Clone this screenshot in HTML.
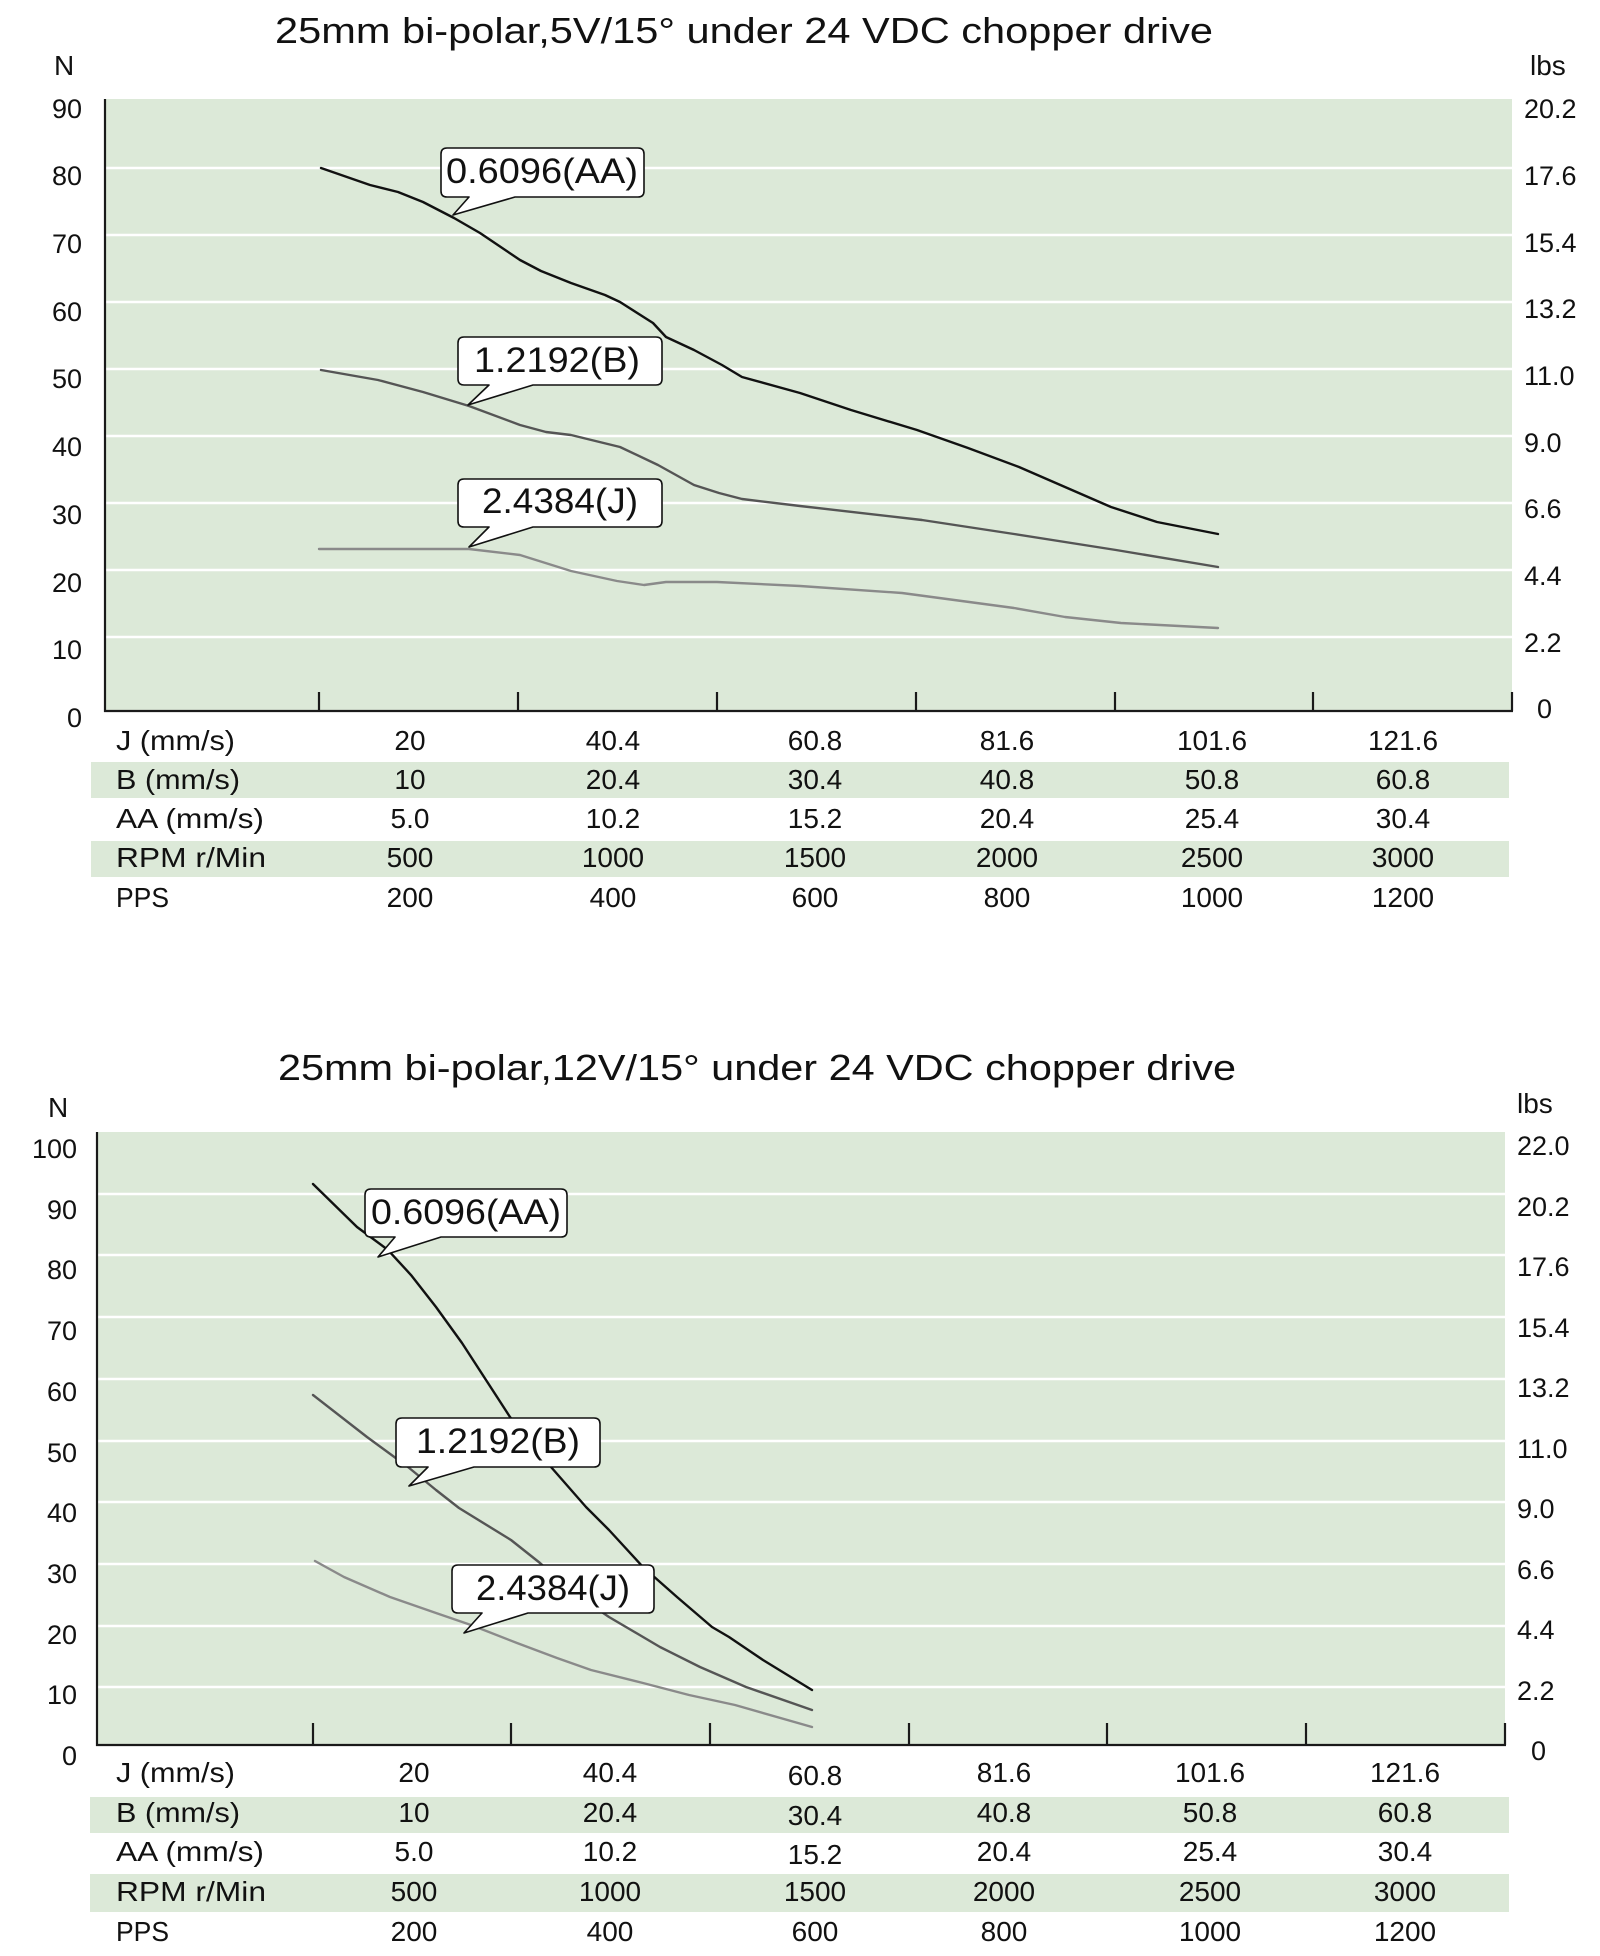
<!DOCTYPE html>
<html>
<head>
<meta charset="utf-8">
<style>
html,body{margin:0;padding:0;background:#fff;}
svg{display:block;}
text{font-family:"Liberation Sans",Arial,sans-serif;fill:#111;}
</style>
</head>
<body>
<svg width="1600" height="1956" viewBox="0 0 1600 1956" xmlns="http://www.w3.org/2000/svg">
<!-- ================= TOP CHART ================= -->
<text x="275" y="43" font-size="36" textLength="938" lengthAdjust="spacingAndGlyphs">25mm bi-polar,5V/15° under 24 VDC chopper drive</text>
<text x="54" y="75" font-size="28">N</text>
<text x="1530" y="75" font-size="28">lbs</text>

<rect x="105" y="99" width="1407" height="612" fill="#dce9d8"/>
<g stroke="#fff" stroke-width="2.5">
<line x1="105" y1="168" x2="1512" y2="168"/>
<line x1="105" y1="235" x2="1512" y2="235"/>
<line x1="105" y1="302" x2="1512" y2="302"/>
<line x1="105" y1="369" x2="1512" y2="369"/>
<line x1="105" y1="436" x2="1512" y2="436"/>
<line x1="105" y1="503" x2="1512" y2="503"/>
<line x1="105" y1="570" x2="1512" y2="570"/>
<line x1="105" y1="637" x2="1512" y2="637"/>
</g>
<g stroke="#1a1a1a" stroke-width="2.2" fill="none">
<line x1="105" y1="99" x2="105" y2="712"/>
<line x1="104" y1="711" x2="1513" y2="711"/>
<line x1="319" y1="692" x2="319" y2="711"/>
<line x1="518" y1="692" x2="518" y2="711"/>
<line x1="717" y1="692" x2="717" y2="711"/>
<line x1="916" y1="692" x2="916" y2="711"/>
<line x1="1115" y1="692" x2="1115" y2="711"/>
<line x1="1313" y1="692" x2="1313" y2="711"/>
<line x1="1512" y1="692" x2="1512" y2="711"/>
</g>
<g font-size="27" text-anchor="end">
<text x="82" y="118">90</text>
<text x="82" y="185">80</text>
<text x="82" y="253">70</text>
<text x="82" y="321">60</text>
<text x="82" y="388">50</text>
<text x="82" y="456">40</text>
<text x="82" y="524">30</text>
<text x="82" y="592">20</text>
<text x="82" y="659">10</text>
<text x="82" y="727">0</text>
</g>
<g font-size="27">
<text x="1524" y="118">20.2</text>
<text x="1524" y="185">17.6</text>
<text x="1524" y="252">15.4</text>
<text x="1524" y="318">13.2</text>
<text x="1524" y="385">11.0</text>
<text x="1524" y="452">9.0</text>
<text x="1524" y="518">6.6</text>
<text x="1524" y="585">4.4</text>
<text x="1524" y="652">2.2</text>
<text x="1537" y="718">0</text>
</g>
<g fill="none" stroke-width="2.4" stroke-linejoin="round" stroke-linecap="round">
<polyline stroke="#8a8a8a" points="319,549 469,549 520,555 571,571 617,581 644,585 666,582 717,582 800,586 902,593 1014,608 1065,617 1121,623 1218,628"/>
<polyline stroke="#555" points="321,370 378,380 423,392 469,406 520,425 546,432 571,435 620,447 658,465 694,485 719,493 742,499 800,506 922,520 1014,534 1116,550 1218,567"/>
<polyline stroke="#111" points="321,168 370,185 398,192 423,202 454,218 480,233 520,260 541,271 571,283 605,295 620,302 653,323 666,337 694,350 722,365 742,377 800,393 851,410 917,430 968,448 1019,467 1065,487 1111,507 1157,522 1218,534"/>
</g>
<g fill="#fff" stroke="#111" stroke-width="1.6" stroke-linejoin="round">
<path d="M447,148 H638 Q644,148 644,154 V191 Q644,197 638,197 H515 L453,215 L469,197 H447 Q441,197 441,191 V154 Q441,148 447,148 Z"/>
<path d="M464,337 H656 Q662,337 662,343 V379 Q662,385 656,385 H533 L468,405 L489,385 H464 Q458,385 458,379 V343 Q458,337 464,337 Z"/>
<path d="M464,479 H656 Q662,479 662,485 V521 Q662,527 656,527 H533 L469,547 L489,527 H464 Q458,527 458,521 V485 Q458,479 464,479 Z"/>
</g>
<g font-size="35">
<text x="446" y="183" textLength="192" lengthAdjust="spacingAndGlyphs">0.6096(AA)</text>
<text x="474" y="372" textLength="166" lengthAdjust="spacingAndGlyphs">1.2192(B)</text>
<text x="482" y="513" textLength="156" lengthAdjust="spacingAndGlyphs">2.4384(J)</text>
</g>
<!-- top table -->
<rect x="91" y="762" width="1418" height="36" fill="#dce9d8"/>
<rect x="91" y="841" width="1418" height="36" fill="#dce9d8"/>
<g font-size="28">
<text x="116" y="750" textLength="119" lengthAdjust="spacingAndGlyphs">J (mm/s)</text>
<text x="116" y="789" textLength="124" lengthAdjust="spacingAndGlyphs">B (mm/s)</text>
<text x="116" y="828" textLength="148" lengthAdjust="spacingAndGlyphs">AA (mm/s)</text>
<text x="116" y="867" textLength="150" lengthAdjust="spacingAndGlyphs">RPM r/Min</text>
<text x="116" y="907" textLength="53" lengthAdjust="spacingAndGlyphs">PPS</text>
</g>
<g font-size="28" text-anchor="middle">
<text x="410" y="750">20</text><text x="613" y="750">40.4</text><text x="815" y="750">60.8</text><text x="1007" y="750">81.6</text><text x="1212" y="750">101.6</text><text x="1403" y="750">121.6</text>
<text x="410" y="789">10</text><text x="613" y="789">20.4</text><text x="815" y="789">30.4</text><text x="1007" y="789">40.8</text><text x="1212" y="789">50.8</text><text x="1403" y="789">60.8</text>
<text x="410" y="828">5.0</text><text x="613" y="828">10.2</text><text x="815" y="828">15.2</text><text x="1007" y="828">20.4</text><text x="1212" y="828">25.4</text><text x="1403" y="828">30.4</text>
<text x="410" y="867">500</text><text x="613" y="867">1000</text><text x="815" y="867">1500</text><text x="1007" y="867">2000</text><text x="1212" y="867">2500</text><text x="1403" y="867">3000</text>
<text x="410" y="907">200</text><text x="613" y="907">400</text><text x="815" y="907">600</text><text x="1007" y="907">800</text><text x="1212" y="907">1000</text><text x="1403" y="907">1200</text>
</g>

<!-- ================= BOTTOM CHART ================= -->
<text x="278" y="1080" font-size="36" textLength="958" lengthAdjust="spacingAndGlyphs">25mm bi-polar,12V/15° under 24 VDC chopper drive</text>
<text x="48" y="1117" font-size="28">N</text>
<text x="1517" y="1113" font-size="28">lbs</text>

<rect x="97" y="1132" width="1408" height="613" fill="#dce9d8"/>
<g stroke="#fff" stroke-width="2.5">
<line x1="97" y1="1194" x2="1505" y2="1194"/>
<line x1="97" y1="1255" x2="1505" y2="1255"/>
<line x1="97" y1="1317" x2="1505" y2="1317"/>
<line x1="97" y1="1379" x2="1505" y2="1379"/>
<line x1="97" y1="1441" x2="1505" y2="1441"/>
<line x1="97" y1="1502" x2="1505" y2="1502"/>
<line x1="97" y1="1564" x2="1505" y2="1564"/>
<line x1="97" y1="1626" x2="1505" y2="1626"/>
<line x1="97" y1="1687" x2="1505" y2="1687"/>
</g>
<g stroke="#1a1a1a" stroke-width="2.2" fill="none">
<line x1="97" y1="1132" x2="97" y2="1746"/>
<line x1="96" y1="1745" x2="1506" y2="1745"/>
<line x1="313" y1="1723" x2="313" y2="1745"/>
<line x1="511" y1="1723" x2="511" y2="1745"/>
<line x1="710" y1="1723" x2="710" y2="1745"/>
<line x1="909" y1="1723" x2="909" y2="1745"/>
<line x1="1107" y1="1723" x2="1107" y2="1745"/>
<line x1="1306" y1="1723" x2="1306" y2="1745"/>
<line x1="1505" y1="1723" x2="1505" y2="1745"/>
</g>
<g font-size="27" text-anchor="end">
<text x="77" y="1158">100</text>
<text x="77" y="1219">90</text>
<text x="77" y="1279">80</text>
<text x="77" y="1340">70</text>
<text x="77" y="1401">60</text>
<text x="77" y="1462">50</text>
<text x="77" y="1522">40</text>
<text x="77" y="1583">30</text>
<text x="77" y="1644">20</text>
<text x="77" y="1704">10</text>
<text x="77" y="1765">0</text>
</g>
<g font-size="27">
<text x="1517" y="1155">22.0</text>
<text x="1517" y="1216">20.2</text>
<text x="1517" y="1276">17.6</text>
<text x="1517" y="1337">15.4</text>
<text x="1517" y="1397">13.2</text>
<text x="1517" y="1458">11.0</text>
<text x="1517" y="1518">9.0</text>
<text x="1517" y="1579">6.6</text>
<text x="1517" y="1639">4.4</text>
<text x="1517" y="1700">2.2</text>
<text x="1531" y="1760">0</text>
</g>
<g fill="none" stroke-width="2.4" stroke-linejoin="round" stroke-linecap="round">
<polyline stroke="#8a8a8a" points="315,1561 344,1577 390,1597 436,1613 471,1625 517,1643 557,1658 591,1670 643,1683 689,1695 735,1705 812,1727"/>
<polyline stroke="#555" points="313,1395 367,1437 408,1467 436,1490 459,1508 511,1540 540,1563 574,1593 609,1617 660,1647 700,1667 746,1687 812,1710"/>
<polyline stroke="#111" points="313,1184 357,1227 388,1250 411,1275 436,1307 462,1343 499,1400 510,1417 551,1467 586,1507 609,1530 643,1567 677,1597 712,1627 729,1637 763,1660 812,1690"/>
</g>
<g fill="#fff" stroke="#111" stroke-width="1.6" stroke-linejoin="round">
<path d="M371,1189 H561 Q567,1189 567,1195 V1231 Q567,1237 561,1237 H441 L378,1257 L395,1237 H371 Q365,1237 365,1231 V1195 Q365,1189 371,1189 Z"/>
<path d="M402,1418 H594 Q600,1418 600,1424 V1461 Q600,1467 594,1467 H474 L409,1486 L428,1467 H402 Q396,1467 396,1461 V1424 Q396,1418 402,1418 Z"/>
<path d="M458,1565 H648 Q654,1565 654,1571 V1607 Q654,1613 648,1613 H528 L464,1633 L482,1613 H458 Q452,1613 452,1607 V1571 Q452,1565 458,1565 Z"/>
</g>
<g font-size="35">
<text x="371" y="1224" textLength="190" lengthAdjust="spacingAndGlyphs">0.6096(AA)</text>
<text x="416" y="1453" textLength="164" lengthAdjust="spacingAndGlyphs">1.2192(B)</text>
<text x="476" y="1600" textLength="154" lengthAdjust="spacingAndGlyphs">2.4384(J)</text>
</g>
<!-- bottom table -->
<rect x="90" y="1797" width="1419" height="36" fill="#dce9d8"/>
<rect x="90" y="1874" width="1419" height="38" fill="#dce9d8"/>
<g font-size="28">
<text x="116" y="1782" textLength="119" lengthAdjust="spacingAndGlyphs">J (mm/s)</text>
<text x="116" y="1822" textLength="124" lengthAdjust="spacingAndGlyphs">B (mm/s)</text>
<text x="116" y="1861" textLength="148" lengthAdjust="spacingAndGlyphs">AA (mm/s)</text>
<text x="116" y="1901" textLength="150" lengthAdjust="spacingAndGlyphs">RPM r/Min</text>
<text x="116" y="1941" textLength="53" lengthAdjust="spacingAndGlyphs">PPS</text>
</g>
<g font-size="28" text-anchor="middle">
<text x="414" y="1782">20</text><text x="610" y="1782">40.4</text><text x="815" y="1785">60.8</text><text x="1004" y="1782">81.6</text><text x="1210" y="1782">101.6</text><text x="1405" y="1782">121.6</text>
<text x="414" y="1822">10</text><text x="610" y="1822">20.4</text><text x="815" y="1825">30.4</text><text x="1004" y="1822">40.8</text><text x="1210" y="1822">50.8</text><text x="1405" y="1822">60.8</text>
<text x="414" y="1861">5.0</text><text x="610" y="1861">10.2</text><text x="815" y="1864">15.2</text><text x="1004" y="1861">20.4</text><text x="1210" y="1861">25.4</text><text x="1405" y="1861">30.4</text>
<text x="414" y="1901">500</text><text x="610" y="1901">1000</text><text x="815" y="1901">1500</text><text x="1004" y="1901">2000</text><text x="1210" y="1901">2500</text><text x="1405" y="1901">3000</text>
<text x="414" y="1941">200</text><text x="610" y="1941">400</text><text x="815" y="1941">600</text><text x="1004" y="1941">800</text><text x="1210" y="1941">1000</text><text x="1405" y="1941">1200</text>
</g>
</svg>
</body>
</html>
